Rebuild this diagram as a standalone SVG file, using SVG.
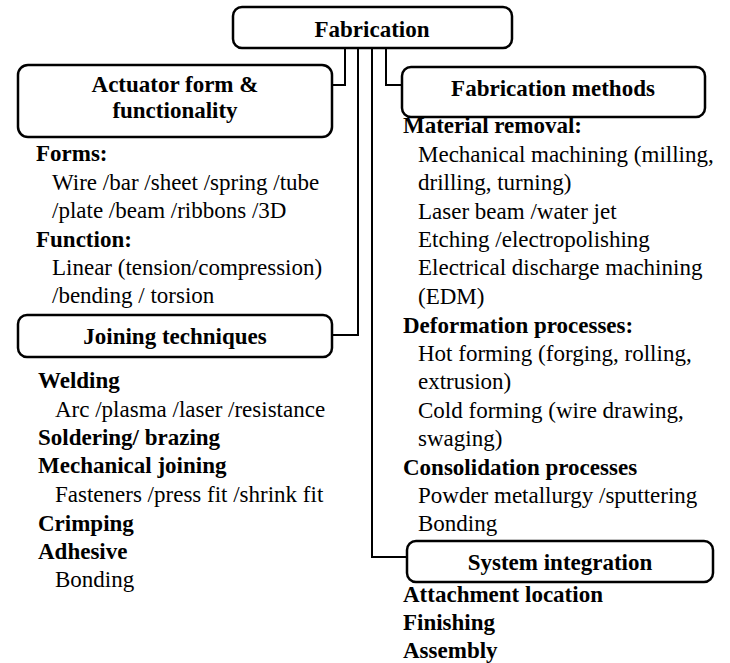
<svg xmlns="http://www.w3.org/2000/svg" width="730" height="663" viewBox="0 0 730 663">
<style>
.box{fill:#fff;stroke:#000;stroke-width:2.5}
.con{fill:none;stroke:#000;stroke-width:2}
.b{font-weight:bold}
.c{text-anchor:middle}
</style>
<rect width="730" height="663" fill="#fff"/>
<g id="connectors">
<polyline class="con" points="345,48 345,85 332,85"/>
<polyline class="con" points="358,48 358,335 332,335"/>
<polyline class="con" points="372,48 372,557 407,557"/>
<polyline class="con" points="386,48 386,85 402,85"/>
</g>
<g font-family="'Liberation Serif', 'DejaVu Serif', serif" font-size="23" fill="#000">
<g id="fabrication">
<rect class="box" x="233" y="7" width="279" height="41" rx="9"/>
<text class="b c" x="372" y="37">Fabrication</text>
</g>
<g id="actuator">
<rect class="box" x="18" y="65" width="314" height="72" rx="10"/>
<text class="b c" x="175" y="92">Actuator form &amp;</text>
<text class="b c" x="175" y="118">functionality</text>
<text class="b" x="36" y="161">Forms:</text>
<text x="52" y="190">Wire /bar /sheet /spring /tube</text>
<text x="52" y="218">/plate /beam /ribbons /3D</text>
<text class="b" x="36" y="247">Function:</text>
<text x="52" y="275">Linear (tension/compression)</text>
<text x="52" y="303">/bending / torsion</text>
</g>
<g id="joining">
<rect class="box" x="18" y="315" width="314" height="42" rx="9"/>
<text class="b c" x="175" y="344">Joining techniques</text>
<text class="b" x="38" y="388">Welding</text>
<text x="55" y="417">Arc /plasma /laser /resistance</text>
<text class="b" x="38" y="445">Soldering/ brazing</text>
<text class="b" x="38" y="473">Mechanical joining</text>
<text x="55" y="502">Fasteners /press fit /shrink fit</text>
<text class="b" x="38" y="531">Crimping</text>
<text class="b" x="38" y="559">Adhesive</text>
<text x="55" y="587">Bonding</text>
</g>
<g id="methods">
<rect class="box" x="402" y="67" width="303" height="50" rx="9"/>
<text class="b c" x="553" y="96">Fabrication methods</text>
<text class="b" x="403" y="133">Material removal:</text>
<text x="418" y="162">Mechanical machining (milling,</text>
<text x="418" y="190">drilling, turning)</text>
<text x="418" y="219">Laser beam /water jet</text>
<text x="418" y="247">Etching /electropolishing</text>
<text x="418" y="275">Electrical discharge machining</text>
<text x="418" y="304">(EDM)</text>
<text class="b" x="403" y="333">Deformation processes:</text>
<text x="418" y="361">Hot forming (forging, rolling,</text>
<text x="418" y="389">extrusion)</text>
<text x="418" y="418">Cold forming (wire drawing,</text>
<text x="418" y="446">swaging)</text>
<text class="b" x="403" y="475">Consolidation processes</text>
<text x="418" y="503">Powder metallurgy /sputtering</text>
<text x="418" y="531">Bonding</text>
</g>
<g id="integration">
<rect class="box" x="407" y="541" width="306" height="41" rx="9"/>
<text class="b c" x="560" y="570">System integration</text>
<text class="b" x="403" y="602">Attachment location</text>
<text class="b" x="403" y="630">Finishing</text>
<text class="b" x="403" y="658">Assembly</text>
</g>
</g>
</svg>
